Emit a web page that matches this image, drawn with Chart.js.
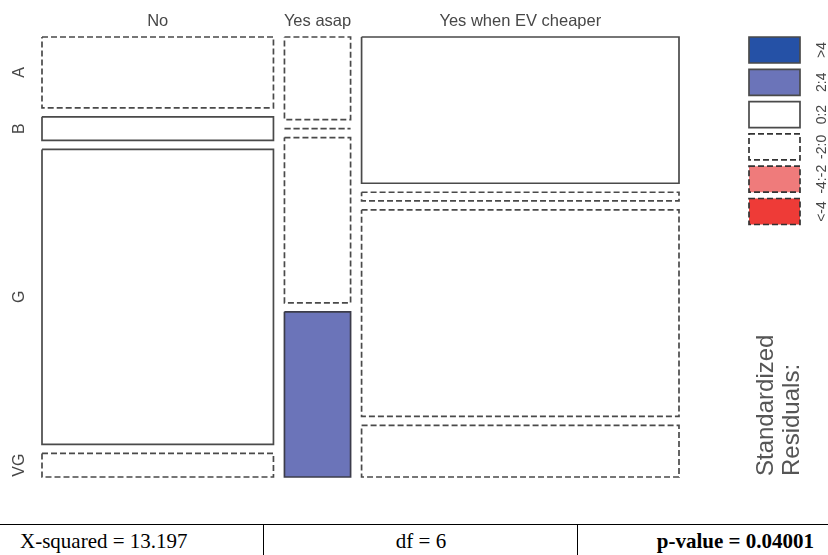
<!DOCTYPE html>
<html>
<head>
<meta charset="utf-8">
<script src="https://cdn.jsdelivr.net/npm/chart.js@4.4.0/dist/chart.umd.min.js"></script>
<style>
  html, body { margin: 0; padding: 0; background: #fff; }
  #wrap { position: relative; width: 828px; height: 555px; overflow: hidden; }
  #mosaic { position: absolute; left: 0; top: 0; }
  #stats { position: absolute; left: 0; top: 524px; width: 828px; height: 31px; border-top: 1.5px solid #000;
           font-family: "Liberation Serif", "Times New Roman", serif; font-size: 21px; color: #000; }
  #stats div { position: absolute; top: 0; height: 31px; line-height: 32px; }
  .sep { border-left: 1px solid #000; }
</style>
</head>
<body>
<div id="wrap">
  <canvas id="mosaic" width="828" height="524"></canvas>
  <div id="stats">
    <div id="chi" style="left:20px;"></div>
    <div class="sep" style="left:263px; width:314px; text-align:center;" id="dfcell"></div>
    <div class="sep" style="left:577px; width:236px; text-align:right; font-weight:bold;" id="pcell"></div>
  </div>
</div>
<script>
// Categories
const rowLabels = ['A', 'B', 'G', 'VG'];
const colLabels = ['No', 'Yes asap', 'Yes when EV cheaper'];

// Counts per column (rows A, B, G, VG)
const countsNo = [6, 2, 25, 2];
const countsYesAsap = [2, 0, 4, 4];
const countsYesEV = [17, 1, 24, 6];

// Residual legend
const legendLabels = ['>4', '2:4', '0:2', '-2:0', '-4:-2', '<-4'];
const legendColors = ['#2551a6', '#6b74b9', '#ffffff', '#ffffff', '#ef7b7b', '#ee3b37'];

// Test statistics shown below the plot
const chiText = 'X-squared = 13.197';
const dfText = 'df = 6';
const pText = 'p-value = 0.04001';

document.getElementById('chi').textContent = chiText;
document.getElementById('dfcell').textContent = dfText;
document.getElementById('pcell').textContent = pText;

const counts = [countsNo, countsYesAsap, countsYesEV];
const N = counts.flat().reduce((a, b) => a + b, 0);
const colTotals = counts.map(c => c.reduce((a, b) => a + b, 0));
const rowTotals = rowLabels.map((_, i) => counts.reduce((s, c) => s + c[i], 0));

// spacing between tiles, as a fraction of the plot area
const gapX = 11 / 637;
const gapY = 9 / 440;

function shadeFor(r) {
    if (r > 4) return { fill: legendColors[0], dash: [] };
    if (r > 2) return { fill: legendColors[1], dash: [] };
    if (r > 0) return { fill: null, dash: [] };
    if (r > -2) return { fill: null, dash: [6, 3] };
    if (r > -4) return { fill: legendColors[4], dash: [6, 3] };
    return { fill: legendColors[5], dash: [6, 3] };
}

// Build one closed-outline dataset per tile
const datasets = [];
const tiles = [];
let x0 = 0;
counts.forEach((col, j) => {
    const w = colTotals[j] / N * (1 - 2 * gapX);
    let y0 = 0;
    col.forEach((obs, i) => {
        const h = obs / colTotals[j] * (1 - 3 * gapY);
        const expected = colTotals[j] * rowTotals[i] / N;
        const res = (obs - expected) / Math.sqrt(expected);
        const s = shadeFor(res);
        tiles.push({ col: j, row: i, x0: x0, x1: x0 + w, y0: y0, y1: y0 + h });
        datasets.push({
            label: colLabels[j] + ' / ' + rowLabels[i],
            data: [{ x: x0, y: y0 }, { x: x0 + w, y: y0 }, { x: x0 + w, y: y0 + h }, { x: x0, y: y0 + h }, { x: x0, y: y0 }],
            showLine: true,
            fill: s.fill ? 'shape' : false,
            backgroundColor: s.fill || 'rgba(0,0,0,0)',
            borderColor: s.fill ? '#3c3c4a' : '#4a4a4a',
            borderWidth: 1.7,
            borderDash: s.dash,
            borderJoinStyle: 'miter',
            pointRadius: 0,
            tension: 0,
            clip: false
        });
        y0 += h + gapY;
    });
    x0 += w + gapX;
});

const labelPlugin = {
    id: 'mosaicLabels',
    afterDraw(chart) {
        const ctx = chart.ctx;
        const xs = chart.scales.x, ys = chart.scales.y;
        ctx.save();
        ctx.fillStyle = '#474747';
        ctx.textAlign = 'center';
        ctx.textBaseline = 'middle';

        // column headers
        ctx.font = '16.5px "Liberation Sans", Arial, sans-serif';
        colLabels.forEach((lab, j) => {
            const t = tiles.find(tt => tt.col === j);
            ctx.fillText(lab, (xs.getPixelForValue(t.x0) + xs.getPixelForValue(t.x1)) / 2, 21);
        });

        // row labels (positioned on first column)
        ctx.font = '16px "Liberation Sans", Arial, sans-serif';
        rowLabels.forEach((lab, i) => {
            const t = tiles.find(tt => tt.col === 0 && tt.row === i);
            const cy = (ys.getPixelForValue(t.y0) + ys.getPixelForValue(t.y1)) / 2;
            ctx.save();
            ctx.translate(20, cy);
            ctx.rotate(-Math.PI / 2);
            ctx.fillText(lab, 0, 0);
            ctx.restore();
        });

        // residual legend
        legendLabels.forEach((lab, k) => {
            const top = 37 + k * 32.3;
            ctx.save();
            ctx.beginPath();
            ctx.rect(749, top, 51, 26);
            ctx.fillStyle = legendColors[k];
            ctx.fill();
            ctx.strokeStyle = k < 3 ? '#4a4a4a' : '#333';
            ctx.lineWidth = 1.7;
            ctx.setLineDash(k < 3 ? [] : [6, 3]);
            ctx.stroke();
            ctx.restore();

            ctx.save();
            ctx.font = '14px "Liberation Sans", Arial, sans-serif';
            ctx.translate(822, top + 13);
            ctx.rotate(-Math.PI / 2);
            ctx.fillText(lab, 0, 0);
            ctx.restore();
        });

        // legend title
        ctx.font = '24px "Liberation Sans", Arial, sans-serif';
        ctx.fillStyle = '#555';
        ctx.textAlign = 'left';
        ['Standardized', 'Residuals:'].forEach((line, k) => {
            ctx.save();
            ctx.translate(766 + k * 26, 476);
            ctx.rotate(-Math.PI / 2);
            ctx.fillText(line, 0, 0);
            ctx.restore();
        });
        ctx.restore();
    }
};

new Chart(document.getElementById('mosaic'), {
    type: 'scatter',
    data: { datasets: datasets },
    options: {
        responsive: false,
        animation: false,
        layout: { padding: { left: 42, right: 149, top: 37, bottom: 47 } },
        scales: {
            x: { type: 'linear', min: 0, max: 1, display: false },
            y: { type: 'linear', min: 0, max: 1, reverse: true, display: false }
        },
        plugins: { legend: { display: false }, tooltip: { enabled: false } }
    },
    plugins: [labelPlugin]
});
</script>
</body>
</html>
